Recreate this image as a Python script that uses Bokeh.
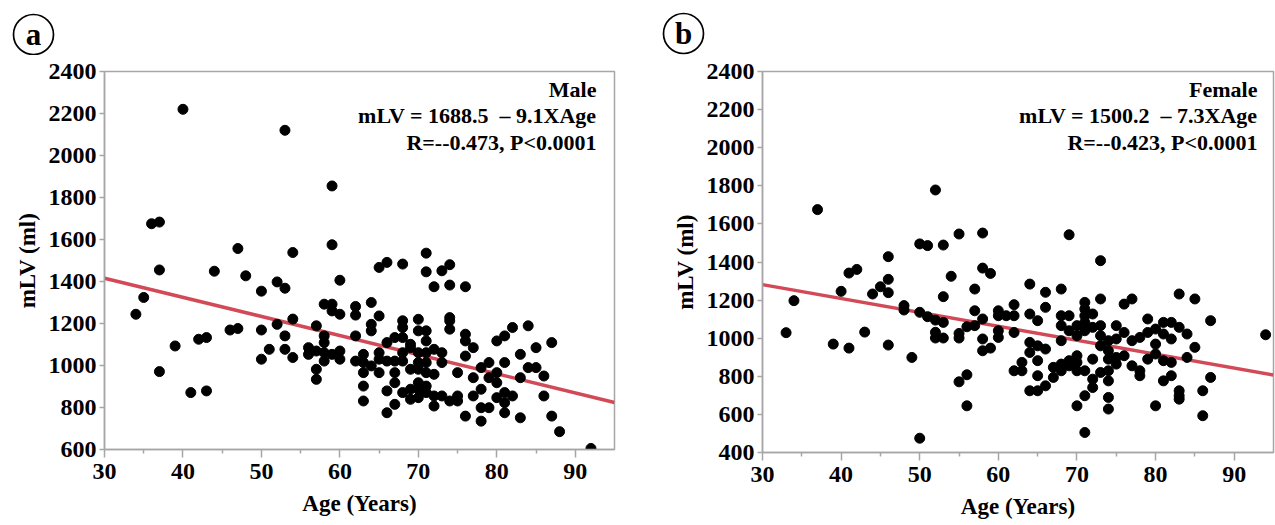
from bokeh.plotting import figure
from bokeh.layouts import row, column
from bokeh.models import Label, FixedTicker, Range1d
from bokeh.core.properties import value
from bokeh.embed import file_html
from bokeh.resources import INLINE

# ---------------- data ----------------
male_age = [40, 53, 59, 36, 37, 37, 47, 54, 59, 44, 48, 50, 52, 53, 35, 34, 60, 39, 41, 43,
            37, 42, 43, 46, 47, 50, 50, 51, 52, 53, 53, 54, 54, 56, 56, 57, 57, 57, 57, 58,
            59, 59, 58, 58, 58, 58, 59, 60, 60, 60, 62, 62, 62, 62,
            63, 63, 63, 63, 63, 64, 64, 64, 64, 65, 65, 65, 65, 65,
            66, 66, 66, 66, 66, 67, 67, 67, 67, 67, 68, 68, 68, 68, 68, 68, 68,
            69, 69, 69, 69, 69, 70, 70, 70, 70, 70, 70, 70, 70,
            71, 71, 71, 71, 71, 71, 71, 71, 71, 72, 72, 72, 72, 72,
            73, 73, 73, 73, 74, 74, 74, 74, 74, 74, 75, 75, 75,
            76, 76, 76, 76, 76, 77, 77, 77, 78, 78, 78, 78, 79, 79, 79,
            80, 80, 80, 80, 81, 81, 81, 81, 81, 82, 82, 83, 83, 83,
            84, 84, 85, 85, 86, 86, 87, 87, 88, 92]
male_mlv = [2220, 2120, 1855, 1675, 1683, 1455, 1557, 1538, 1575, 1449, 1427, 1354, 1398, 1368, 1324, 1244, 1406, 1093, 871, 879,
            971, 1125, 1133, 1169, 1176, 1169, 1030, 1077, 1196, 1141, 1077, 1221, 1038, 1085, 1053, 1189, 1069, 982, 934, 1292,
            1292, 1260, 1141, 1109, 1061, 1021, 1053, 1069, 1030, 1244, 1281, 1240, 1141, 1021,
            1053, 1014, 966, 902, 831, 1300, 1196, 1165, 998, 1236, 1061, 1030, 966, 1467,
            1491, 1109, 1021, 879, 775, 1133, 1021, 966, 918, 815, 1483, 1213, 1181, 1133, 1061, 1021, 871,
            1101, 1085, 982, 887, 839, 1220, 1165, 1061, 1014, 982, 918, 887, 847,
            1535, 1446, 1165, 1117, 1061, 1014, 966, 902, 871, 1375, 1077, 958, 855, 807,
            1451, 1061, 1014, 855, 1480, 1383, 1228, 1213, 1173, 831, 966, 855, 831,
            1375, 1149, 1117, 1045, 759, 1085, 942, 855, 990, 887, 799, 735, 1014, 942, 799,
            1117, 966, 918, 847, 1141, 1014, 871, 823, 775, 1181, 855, 1053, 942, 751,
            1189, 990, 1085, 990, 950, 855, 1109, 759, 685, 605]

female_age = [37, 33, 34, 39, 40, 41, 42, 41, 43, 44, 45, 46, 46, 46, 46, 48, 48, 49, 50, 50,
              50, 51, 51, 52, 52, 52, 52, 53, 53, 53, 53, 54, 55, 55, 55, 55, 56, 56, 56, 57,
              57, 57, 58, 58, 58, 58, 58, 59, 59, 60, 60, 60, 60, 61, 62, 62, 62, 62, 63, 63,
              64, 64, 64, 64, 64, 65, 65, 65, 65, 65, 66, 66, 66, 66, 67, 67,
              68, 68, 68, 68, 68, 68, 69, 69, 69, 69, 69, 70, 70, 70, 70, 70, 70,
              71, 71, 71, 71, 71, 71, 71, 71, 72, 72, 72, 72, 72, 73, 73, 73, 73, 73, 73,
              74, 74, 74, 74, 74, 74, 74, 75, 75, 75, 75, 76, 76, 76, 77, 77, 77,
              78, 78, 78, 79, 79, 79, 80, 80, 80, 80, 81, 81, 81, 81, 82, 82, 82, 82,
              83, 83, 83, 83, 83, 84, 84, 85, 85, 86, 86, 87, 87, 94]
female_mlv = [1675, 1029, 1197, 969, 1246, 1342, 1361, 948, 1032, 1232, 1270, 1428, 1309, 1239, 964, 1171, 1148, 899, 1495, 1136,
              475, 1486, 1113, 1095, 1031, 1001, 1778, 1489, 1218, 1083, 1001, 1325, 1547, 1025, 1001, 771, 808, 645, 1060, 1258,
              1144, 1066, 1552, 1368, 1101, 996, 934, 1340, 948, 1144, 1118, 1039, 1004, 1118, 1176, 1118, 1030, 829, 873, 829,
              1284, 1127, 978, 925, 724, 1092, 960, 882, 803, 724, 1241, 1162, 943, 750, 847, 794,
              1258, 1118, 1066, 987, 864, 829, 1543, 1118, 1039, 882, 855, 1066, 1013, 908, 873, 829, 645,
              1188, 1153, 1118, 1083, 1039, 829, 698, 505, 1127, 1057, 890, 785, 741, 1407, 1206, 1066, 1013, 960, 820,
              987, 934, 890, 829, 776, 689, 628, 1066, 996, 899, 864, 1179, 1030, 908, 1206, 987, 855,
              1004, 829, 803, 1101, 1030, 890, 1048, 969, 917, 645, 1083, 1022, 882, 776, 1083, 996, 873, 803,
              1232, 1057, 724, 698, 680, 1022, 899, 1206, 952, 724, 593, 1092, 794, 1018]

x_ticks = [30, 40, 50, 60, 70, 80, 90]
x_minor = [35, 45, 55, 65, 75, 85]
male_y_ticks = [600, 800, 1000, 1200, 1400, 1600, 1800, 2000, 2200, 2400]
female_y_ticks = [400, 600, 800, 1000, 1200, 1400, 1600, 1800, 2000, 2200, 2400]

male_fit = (1688.5, -9.1)
female_fit = (1500.2, -7.3)
male_text = ["Male", "mLV = 1688.5\u00a0 \u2013 9.1XAge", "R=--0.473, P<0.0001"]
female_text = ["Female", "mLV = 1500.2\u00a0 \u2013 7.3XAge", "R=--0.423, P<0.0001"]
panel_letters = ["a", "b"]

FONT = "Liberation Serif"
GRAY = "#a6a6a6"
RED = "#d24a57"
W = 1275
HEADER_H = 55


def make_header(letters, centers):
    h = figure(width=W, height=HEADER_H, frame_width=W, frame_height=HEADER_H,
               x_range=Range1d(0, W), y_range=Range1d(0, HEADER_H),
               output_backend="svg", toolbar_location=None,
               min_border=0, min_border_left=0, min_border_right=0,
               min_border_top=0, min_border_bottom=0)
    h.axis.visible = False
    h.grid.visible = False
    h.outline_line_color = None
    cx = [c[0] for c in centers]
    cy = [HEADER_H - c[1] for c in centers]
    h.circle(cx, cy, radius=20, fill_color=None, line_color="black", line_width=1.7)
    h.text(cx, cy, text=letters, text_font=value(FONT), text_font_style="bold",
           text_font_size="31px", text_align="center", text_baseline="middle",
           text_color="black")
    return h


def make_panel(ages, vals, yticks, fit, texts, width, height,
               bl, br, bt, bb, fw, fh, inset):
    y0, y1 = yticks[0], yticks[-1]
    p = figure(width=width, height=height, frame_width=fw, frame_height=fh,
               x_range=Range1d(30, 95), y_range=Range1d(y0, y1),
               output_backend="svg", toolbar_location=None,
               min_border_left=bl, min_border_right=br, min_border_top=bt, min_border_bottom=bb)
    p.grid.visible = False
    p.outline_line_color = GRAY
    p.outline_line_width = 1.5
    p.background_fill_color = "white"
    p.border_fill_color = "white"

    p.xaxis.ticker = FixedTicker(ticks=x_ticks, minor_ticks=x_minor)
    p.yaxis.ticker = FixedTicker(ticks=yticks)
    for ax in (p.xaxis, p.yaxis):
        ax.axis_line_color = GRAY
        ax.axis_line_width = 1.5
        ax.major_tick_line_color = GRAY
        ax.major_tick_line_width = 1.5
        ax.minor_tick_line_color = GRAY
        ax.minor_tick_line_width = 1.5
        ax.major_tick_in = 0
        ax.minor_tick_in = 0
        ax.major_label_text_font = FONT
        ax.major_label_text_font_style = "bold"
        ax.major_label_text_font_size = "24px"
        ax.major_label_text_color = "black"
        ax.axis_label_text_font = FONT
        ax.axis_label_text_font_style = "bold"
        ax.axis_label_text_font_size = "23px"
        ax.axis_label_text_color = "black"
    p.xaxis.major_tick_out = 8
    p.xaxis.minor_tick_out = 4
    p.xaxis.major_label_standoff = 6
    p.xaxis.axis_label_standoff = 9
    p.yaxis.major_tick_out = 5
    p.yaxis.minor_tick_out = 0
    p.yaxis.major_label_standoff = 3
    p.yaxis.axis_label_standoff = 6
    p.xaxis.axis_label = "Age (Years)"
    p.yaxis.axis_label = "mLV (ml)"

    x0, x1 = p.x_range.start, p.x_range.end
    a, b = fit
    p.line([x0, x1], [a + b * x0, a + b * x1], line_color=RED, line_width=3.5)
    p.scatter(ages, vals, size=10, fill_color="black", line_color="black")

    offsets = [fh - 18, fh - 44, fh - 71]
    for t, yo in zip(texts, offsets):
        p.add_layout(Label(x=fw - inset, y=yo, x_units="screen", y_units="screen", text=t,
                           text_font=FONT, text_font_style="bold", text_font_size="22px",
                           text_align="right", text_baseline="middle", text_color="black"))
    return p


header = make_header(panel_letters, [(33, 34), (683, 33)])
p1 = make_panel(male_age, male_mlv, male_y_ticks, male_fit, male_text,
                640, 525 - HEADER_H, 104, 26, 69 - HEADER_H, 78, 510, 378, 18)
p2 = make_panel(female_age, female_mlv, female_y_ticks, female_fit, female_text,
                635, 525 - HEADER_H, 122, 2, 71 - HEADER_H, 73, 511, 381, 16)

layout = column(header, row(p1, p2, spacing=0), spacing=0)
open("out.html", "w").write(file_html(layout, INLINE))
